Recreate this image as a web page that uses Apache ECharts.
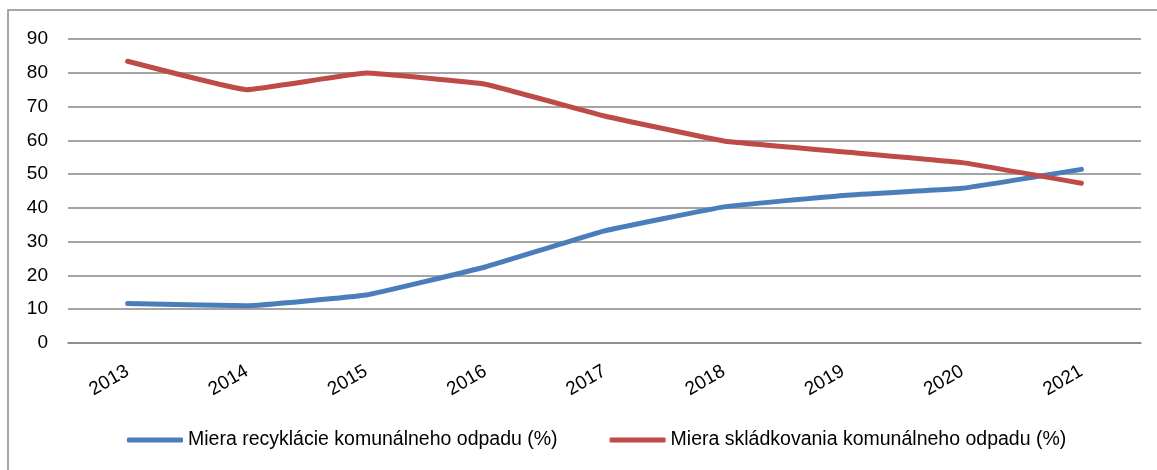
<!DOCTYPE html>
<html>
<head>
<meta charset="utf-8">
<script src="https://cdn.jsdelivr.net/npm/echarts@6/dist/echarts.min.js"></script>
<style>
  html, body { margin: 0; padding: 0; background: #fff; }
  #chart { width: 1157px; height: 470px; }
</style>
</head>
<body>
<div id="chart"></div>
<script>
var years = ['2013', '2014', '2015', '2016', '2017', '2018', '2019', '2020', '2021']
var recyklacia = [11.7, 11.0, 14.2, 22.5, 33.2, 40.3, 43.7, 45.8, 51.4]
var skladkovanie = [83.4, 75.0, 79.9, 76.6, 67.2, 59.8, 56.6, 53.4, 47.3]
var nameRecyklacia = 'Miera recyklácie komunálneho odpadu (%)'
var nameSkladkovanie = 'Miera skládkovania komunálneho odpadu (%)'

var font = '"Liberation Sans", "DejaVu Sans", sans-serif'
var mychart = echarts.init(document.getElementById('chart'))
var myoption = {
  animation: false,
  textStyle: { fontFamily: font },
  graphic: [{
    type: 'rect',
    shape: { x: 8, y: 10, width: 1170, height: 480 },
    style: { fill: 'none', stroke: '#8a8a8a', lineWidth: 1.5 },
    silent: true
  }],
  grid: {
    left: 68,
    right: 16,
    top: 39,
    bottom: 127
  },
  legend: {
    bottom: 15,
    left: 122,
    itemWidth: 56,
    itemHeight: 5,
    itemGap: 52,
    icon: 'roundRect',
    textStyle: { fontSize: 19.5, color: '#000', fontFamily: font },
    data: [nameRecyklacia, nameSkladkovanie]
  },
  xAxis: {
    type: 'category',
    data: years,
    boundaryGap: true,
    axisTick: { show: false },
    axisLine: { show: true, lineStyle: { color: '#868686', width: 1.5 } },
    axisLabel: {
      rotate: 30,
      margin: 27,
      fontSize: 19,
      color: '#000',
      fontFamily: font
    }
  },
  yAxis: {
    type: 'value',
    min: 0,
    max: 90,
    interval: 10,
    axisLine: { show: false },
    axisTick: { show: false },
    splitLine: { show: true, lineStyle: { color: '#868686', width: 1.5 } },
    axisLabel: {
      margin: 20,
      fontSize: 19,
      color: '#000',
      fontFamily: font
    }
  },
  series: [{
    name: nameRecyklacia,
    type: 'line',
    data: recyklacia,
    smooth: 0.08,
    symbol: 'none',
    lineStyle: { color: '#4a7ebb', width: 5, cap: 'round' },
    itemStyle: { color: '#4a7ebb' }
  }, {
    name: nameSkladkovanie,
    type: 'line',
    data: skladkovanie,
    smooth: 0.08,
    symbol: 'none',
    lineStyle: { color: '#be4b48', width: 5, cap: 'round' },
    itemStyle: { color: '#be4b48' }
  }]
}
mychart.setOption(myoption)
</script>
</body>
</html>
